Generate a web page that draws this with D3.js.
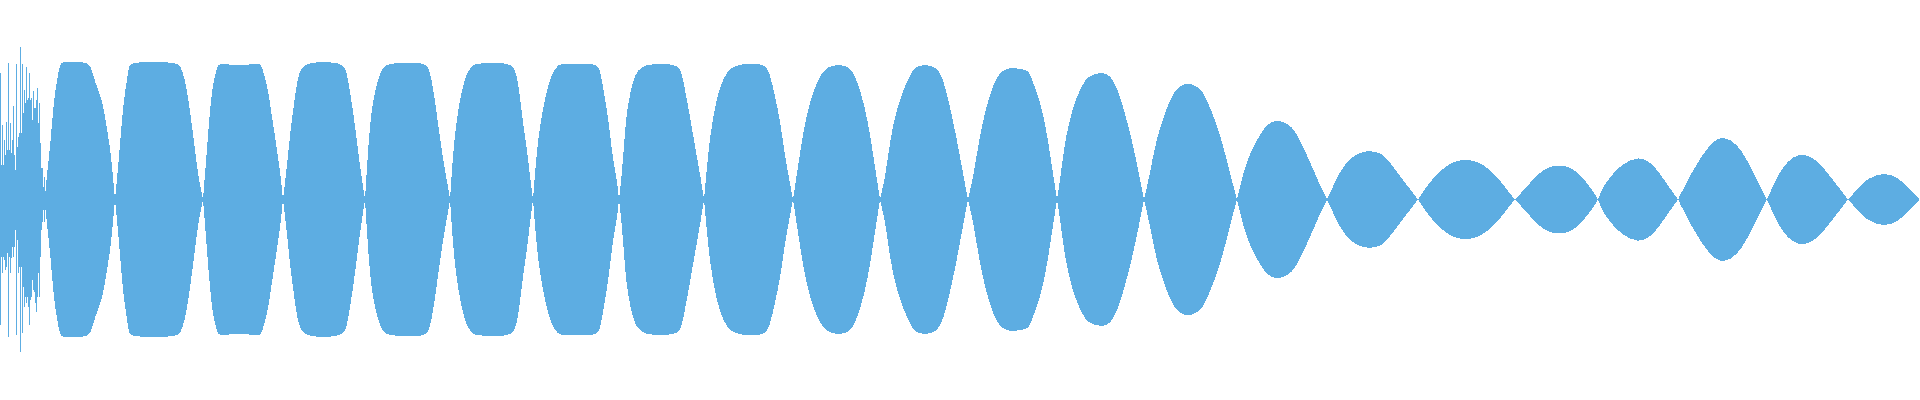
<!DOCTYPE html>
<html>
<head>
<meta charset="utf-8">
<script src="https://cdn.jsdelivr.net/npm/d3@7"></script>
<style>
html, body { margin: 0; padding: 0; background: #fff; }
svg { display: block; }
</style>
</head>
<body>
<div id="wave"></div>
<script>

var width = 1920, height = 400;
var waveColor = "#5dade2";

// first noisy burst, one peak pair per frame (percent of full scale)
var onsetHi = [63.1, 17.3, 37.3, 17.3, 29.8, 22.3, 38.9, 24.8, 68.4, 24.8,
               38.1, 23.1, 29.8, 46.8, 22.3, 14.8, 67.8, 26.4, 31.4, 33.1,
               76.4, 33.1, 67.8, 43.1, 54.8, 48.1, 66.1, 49.8, 50.6, 63.1,
               49.8, 50.6, 39.8, 54.4, 45.6, 45.6, 49.8, 55.6, 38.1, 48.4,
               28.1, 15.6, 15.6, 6.4, 11.4, 1.4];
var onsetLo = [-62.8, -28.6, -36.9, -28.6, -30.3, -35.3, -33.6, -26.9, -68.6, -28.6,
               -36.9, -29.4, -23.6, -28.6, -23.6, -15.3, -67.8, -20.3, -36.9, -33.6,
               -76.1, -33.6, -66.9, -43.6, -53.6, -48.6, -51.9, -48.6, -53.6, -62.8,
               -50.3, -48.6, -40.3, -45.3, -46.1, -51.9, -56.1, -48.6, -36.9, -48.6,
               -28.6, -15.3, -11.1, -5.3, -11.1, -5.3];

// envelope of the rest: frame and peak level (percent), 0 = node between beats
var envFrame = [
  45, 47, 50, 52, 54, 57, 60, 62, 76, 89, 92, 95, 98, 102, 105, 108, 111, 113, 115,
  116, 119, 122, 124, 127, 129, 132, 155, 176, 181, 185, 189, 193, 197, 200, 203,
  207, 210, 213, 217, 220, 237, 250, 261, 263, 267, 270, 273, 278, 281, 283,
  287, 290, 295, 298, 303, 320, 343, 347, 349, 352, 356, 360, 365,
  367, 370, 373, 378, 382, 387, 410, 427, 430, 433, 438, 443, 448, 450,
  453, 456, 460, 464, 468, 474, 478, 495, 513, 517, 520, 523, 527, 530, 533,
  535, 538, 542, 547, 552, 558, 562, 580, 597, 600, 603, 607, 610, 613, 617, 619,
  622, 625, 628, 633, 638, 645, 660, 678, 682, 685, 690, 695, 700, 704,
  707, 710, 715, 720, 727, 733, 743, 755, 765, 770, 775, 780, 785, 790, 793,
  797, 802, 808, 820, 830, 847, 855, 865, 871, 876, 880,
  886, 890, 897, 910, 917, 933, 942, 950, 957, 963, 968,
  974, 979, 986, 997, 1007, 1013, 1027, 1030, 1042, 1048, 1053, 1057,
  1061, 1065, 1073, 1080, 1085, 1092, 1102, 1110, 1118, 1123, 1132, 1139, 1144,
  1150, 1156, 1167, 1175, 1181, 1188, 1195, 1202, 1210, 1222, 1230, 1237,
  1243, 1250, 1257, 1265, 1272, 1278, 1285, 1292, 1300, 1308, 1315, 1321, 1327,
  1333, 1339, 1348, 1358, 1369, 1382, 1388, 1398, 1408, 1418,
  1425, 1433, 1443, 1453, 1467, 1480, 1490, 1500, 1508, 1515,
  1527, 1537, 1547, 1557, 1570, 1580, 1590, 1598,
  1603, 1613, 1623, 1638, 1650, 1660, 1670, 1678,
  1687, 1697, 1707, 1715, 1724, 1737, 1747, 1757, 1767,
  1775, 1783, 1793, 1804, 1817, 1828, 1838, 1848,
  1858, 1867, 1883, 1897, 1907, 1919
];
var envPeak = [
  1.5, 12.5, 26, 38, 49.5, 60, 67.5, 68.8, 69, 68.5, 64.5, 59, 55, 49.5, 41.5, 32, 22.5, 11, 0,
  5, 21, 40, 50, 60, 67, 68.5, 68.8, 68.5, 66.5, 60, 48, 33, 16.5, 7, 0,
  25, 45, 58, 66.5, 68.3, 66.8, 67.5, 68.5, 64, 58, 48, 38, 21.5, 10, 0,
  16.5, 33, 51.5, 61.5, 68, 68.8, 68.5, 63, 56.5, 48, 33, 16.5, 0,
  16.5, 38, 49.5, 60, 65.5, 68, 68.5, 68.3, 63, 56.5, 38, 20, 6.5, 0,
  22.5, 37.5, 50, 59, 64.5, 67.5, 68, 68.3, 68, 61.5, 51.5, 38, 25, 11.5, 0,
  13, 30, 43, 55, 63, 67.3, 67.8, 68, 67.8, 64.8, 56.5, 44.8, 33, 19.8, 10, 0,
  13, 34.8, 48, 59.8, 64.8, 67.5, 67.8, 67.5, 63, 54.8, 41.5, 26.5, 13, 0,
  16.5, 31.5, 46.5, 56.5, 64, 66.5, 67.8, 67.8, 67.5, 63, 51.5, 40, 21.5, 8, 0,
  13, 29.8, 46.5, 63, 67.3, 67.3, 63, 46.5, 29.8, 13, 0,
  13, 29.8, 46.5, 63, 67.3, 67.3, 63, 46.5, 29.8, 13, 0,
  13, 29.8, 46.5, 63, 65.5, 65.8, 65, 63, 46.5, 29.8, 13, 0,
  13, 29.8, 46.5, 54.8, 59.8, 62.5, 63.5, 62.5, 54.8, 46.5, 29.8, 13, 0,
  13, 29.8, 46.5, 54.8, 57, 58.3, 57, 54.8, 46.5, 29.8, 13, 0,
  13, 23, 29.8, 36.5, 39, 39.5, 38.5, 36.5, 29.8, 21, 13, 6, 0,
  6.5, 13, 19.8, 23, 24.8, 23, 19.8, 13, 6.5, 0,
  5.5, 10.5, 15.5, 19, 20.3, 18.5, 14.8, 9.8, 4, 0,
  6.5, 12.3, 16, 17.3, 16.5, 12.3, 6.5, 0,
  6.5, 13, 18, 21.5, 19, 13, 5.5, 0,
  9, 18, 25.5, 29.8, 31.5, 28, 19.8, 9.8, 0,
  9, 16.5, 21.5, 23, 19.8, 13, 6.5, 0,
  5.5, 10.5, 13.5, 11.5, 6.5, 0.5
];

var svg = d3.select('#wave')
  .append('svg')
  .attr('width', width)
  .attr('height', height);

var x = d3.scaleLinear()
  .domain([0, 1920])
  .range([0, width]);

var y = d3.scaleLinear()
  .domain([-100, 100])
  .range([height - 0.5, -0.5]);

// onset burst, drawn frame by frame
svg.selectAll('.onset')
  .data(onsetHi)
  .enter().append('rect')
  .attr('class', 'onset')
  .attr('x', function(d, i){ return x(i); })
  .attr('width', function(d, i){ return x(i + 1) - x(i); })
  .attr('y', function(d){ return y(d); })
  .attr('height', function(d, i){ return y(onsetLo[i]) - y(d); })
  .attr('shape-rendering', 'crispEdges')
  .style('fill', waveColor);

// split the envelope at its nodes so each beat keeps a sharp pinch
var lobes = [], cur = [];
envFrame.forEach(function(f, i){
  var p = {f: f, v: envPeak[i]};
  cur.push(p);
  if (p.v === 0 && cur.length > 1) {
    lobes.push(cur);
    cur = [p];
  }
});
if (cur.length > 1) lobes.push(cur);

var area = d3.area()
  .curve(d3.curveBasis)
  .x(function(d){ return x(d.f); })
  .y0(function(d){ return y(-d.v); })
  .y1(function(d){ return y(d.v); });

svg.selectAll('.lobe')
  .data(lobes)
  .enter().append('path')
  .attr('class', 'lobe')
  .attr('d', area)
  .attr('shape-rendering', 'crispEdges')
  .style('fill', waveColor);

</script>
</body>
</html>
